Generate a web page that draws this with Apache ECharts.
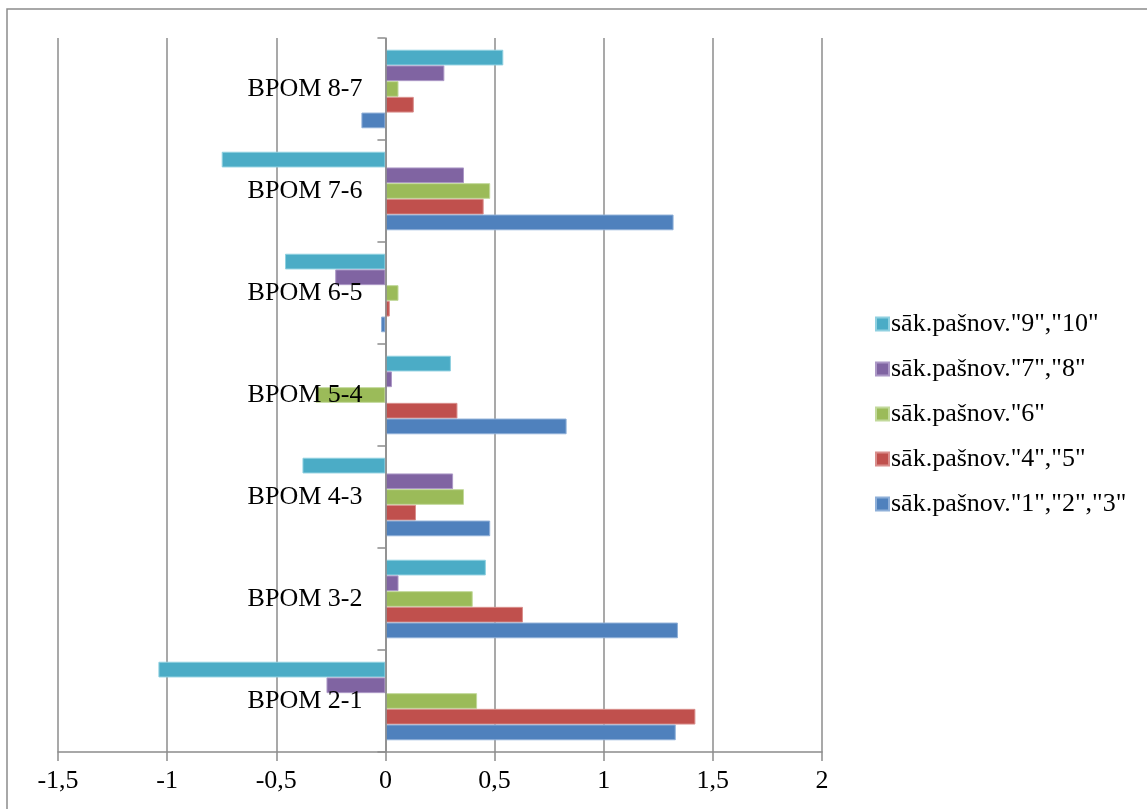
<!DOCTYPE html>
<html>
<head>
<meta charset="utf-8">
<script src="https://cdn.jsdelivr.net/npm/echarts@6/dist/echarts.min.js"></script>
<style>html,body{margin:0;padding:0;background:#fff;}#c{width:1147px;height:809px;}</style>
</head>
<body>
<div id="c"></div>
<script>
const categories = ['BPOM 2-1','BPOM 3-2','BPOM 4-3','BPOM 5-4','BPOM 6-5','BPOM 7-6','BPOM 8-7'];
const seriesNames = ['sāk.pašnov."1","2","3"','sāk.pašnov."4","5"','sāk.pašnov."6"','sāk.pašnov."7","8"','sāk.pašnov."9","10"'];
const s123 = [1.33, 1.34, 0.48, 0.83, -0.02, 1.32, -0.11];
const s45  = [1.42, 0.63, 0.14, 0.33, 0.02, 0.45, 0.13];
const s6   = [0.42, 0.40, 0.36, -0.32, 0.06, 0.48, 0.06];
const s78  = [-0.27, 0.06, 0.31, 0.03, -0.23, 0.36, 0.27];
const s910 = [-1.04, 0.46, -0.38, 0.30, -0.46, -0.75, 0.54];
const xTicks = {min: -1.5, max: 2, interval: 0.5};

const colors = ['#4F81BD','#C0504D','#9BBB59','#8064A2','#4BACC6'];
const borders = ['#8EAFD8','#D98E8C','#C2D99B','#AC98C6','#8FD0E0'];
const values = [s123, s45, s6, s78, s910];
const font = 'Liberation Serif';

const gridLeft = 58, gridRight = 325, W = 1147;
// place the category axis on x = 0 of the value axis
const plotW = W - gridLeft - gridRight;
const zeroOffset = (0 - xTicks.min) / (xTicks.max - xTicks.min) * plotW;

// ECharts places the first bar series at the top of each band; reverse so series "1,2,3" is at the bottom
const order = [4, 3, 2, 1, 0];

const chart = echarts.init(document.getElementById('c'));
chart.setOption({
  animation: false,
  backgroundColor: '#fff',
  graphic: [{
    type: 'rect', shape: {x: 7, y: 9, width: 1200, height: 900},
    style: {fill: 'none', stroke: '#8c8c8c', lineWidth: 1.5}, silent: true
  }],
  grid: {left: gridLeft, right: gridRight, top: 38, bottom: 57, containLabel: false, outerBoundsMode: 'none'},
  legend: {
    orient: 'vertical', left: 870, top: 306, itemWidth: 13, itemHeight: 13, itemGap: 19,
    icon: 'rect',
    data: seriesNames.slice().reverse(),
    textStyle: {fontFamily: font, fontSize: 26, color: '#000', padding: [0,0,0,-3]}
  },
  xAxis: {
    type: 'value', min: xTicks.min, max: xTicks.max, interval: xTicks.interval,
    axisLine: {show: true, lineStyle: {color: '#8c8c8c', width: 1.5}},
    axisTick: {show: true, length: 9, lineStyle: {color: '#8c8c8c', width: 1.5}},
    axisLabel: {fontFamily: font, fontSize: 26, color: '#000', margin: 16,
      formatter: v => String(Math.round(v*10)/10).replace('.', ',')},
    splitLine: {show: true, lineStyle: {color: '#8c8c8c', width: 1.5}}
  },
  yAxis: {
    type: 'category', data: categories, z: 10, position: 'left', offset: -zeroOffset,
    axisLine: {show: true, onZero: false, lineStyle: {color: '#8c8c8c', width: 1.5}},
    axisTick: {show: true, length: 8, lineStyle: {color: '#8c8c8c', width: 1.5}},
    axisLabel: {fontFamily: font, fontSize: 26, color: '#000', margin: 23},
    splitLine: {show: false}
  },
  series: order.map(i => ({
    name: seriesNames[i], type: 'bar', data: values[i],
    barGap: '0%', barCategoryGap: '23%',
    itemStyle: {color: colors[i], borderColor: borders[i], borderWidth: 1}
  }))
});
</script>
</body>
</html>
